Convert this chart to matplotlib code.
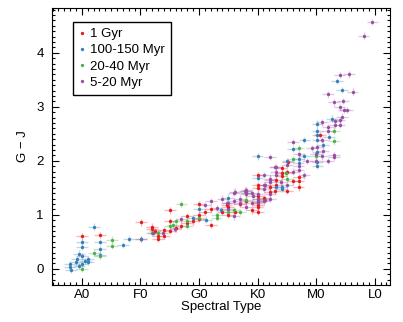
import matplotlib
matplotlib.use('Agg')
import matplotlib.pyplot as plt
from matplotlib.lines import Line2D
from matplotlib.ticker import MultipleLocator

plt.rcParams['font.family'] = ['Liberation Sans', 'DejaVu Sans']

# spectral type as number: A0=0, F0=10, G0=20, K0=30, M0=40, L0=50
tick_pos = [0, 10, 20, 30, 40, 50]
tick_labels = ['A0', 'F0', 'G0', 'K0', 'M0', 'L0']

labels = ['1 Gyr', '100-150 Myr', '20-40 Myr', '5-20 Myr']
colors = ['#e41a1c', '#377eb8', '#4daf4a', '#984ea3']

# 1 Gyr
red_x = [0, 3.1, 10.1, 10.1, 15, 15, 12, 13, 14, 14, 15, 17, 18, 19, 20, 20, 20,
         21, 22, 24, 25, 25, 30, 30, 30, 35.1, 37, 37, 37, 34.1, 34.1, 36, 33.1,
         33.1, 35.1, 32.1, 32.1, 30.1, 31.1, 30.1, 40.6, 35.2, 34.1, 26.1, 29,
         30.1, 30.1, 24.7, 30.1, 22, 16, 18, 12.5, 27, 28, 33, 12, 13]
red_y = [0.60, 0.63, 0.86, 0.55, 1.08, 0.89, 0.74, 0.55, 0.61, 0.71, 0.70, 0.80,
         0.98, 0.88, 1.20, 1.00, 0.92, 1.05, 0.81, 1.06, 1.00, 1.15, 1.74, 1.55,
         1.15, 1.79, 1.70, 1.62, 1.51, 1.77, 1.71, 1.62, 1.64, 1.56, 1.44, 1.51,
         1.43, 1.34, 1.31, 1.24, 2.48, 1.97, 1.86, 1.06, 1.08, 1.06, 1.19, 1.19,
         1.49, 1.10, 0.75, 0.85, 0.70, 1.20, 1.25, 1.45, 0.78, 0.60]

# 100-150 Myr
blue_x = [2.1, 0.05, 0, 3.1, 3.1, 0, -0.5, -0.9, 1.1, -2, -2, -1.9, -0.5, 0, 7.0,
          8.1, 3.1, 10.1, 19, 20, 21.2, 25, 30, 30, 43.5, 44.4, 42.7, 40.2, 40.2,
          40.2, 42.2, 38, 40.2, 36, 41.2, 40.2, 37, 38, 35.1, 37, 40.2, 40.2,
          34.1, 33.1, 23.8, 34.1, 1.0, -1, 0.5]
blue_y = [0.78, 0.50, 0.40, 0.50, 0.36, 0.23, 0.28, 0.18, 0.18, 0.09, 0.04,
          -0.02, 0.05, 0.09, 0.44, 0.55, 0.26, 0.55, 0.94, 1.10, 0.91, 1.32,
          1.68, 2.08, 3.48, 3.31, 2.78, 2.69, 2.56, 2.47, 2.44, 2.39, 2.39, 2.22,
          2.30, 2.17, 2.03, 2.08, 1.99, 1.96, 1.97, 1.90, 1.52, 1.51, 1.09, 1.48,
          0.13, 0.12, 0.14]

# 20-40 Myr
green_x = [5.1, 5.1, 2.1, 3.1, 0, 12, 13, 15, 16, 17, 18, 18, 23, 23, 26, 27, 28,
           35.1, 34.9, 37, 36, 40, 43, 43, 28.1, 30, 20, 25, 15.5]
green_y = [0.54, 0.43, 0.30, 0.24, 0.00, 0.67, 0.67, 0.80, 0.88, 1.20, 0.89,
           0.80, 1.00, 0.94, 1.08, 1.05, 1.28, 1.67, 1.77, 2.24, 2.03, 2.08,
           2.56, 2.36, 1.40, 1.30, 0.95, 1.05, 0.82]

# 5-20 Myr
purple_x = [12.2, 15.9, 17, 13.9, 21, 22, 23, 25, 25, 26, 26, 26, 27, 28, 28, 28,
            29, 30, 30, 44, 45.6, 46.2, 42, 43, 44.6, 44, 44.8, 45.3, 44.4, 44,
            43.2, 44, 43.2, 41, 42, 42, 41, 36, 39.2, 40.2, 41.2, 37, 32.1, 40,
            41, 43, 43, 35.1, 37, 37, 38, 33.1, 33.1, 33.1, 31.1, 32.1, 32.1,
            31.1, 31.1, 28.1, 28.1, 29.2, 30.1, 31.1, 32.1, 40, 33, 26.1, 27.8,
            24.7, 30.1, 31.2, 32.1, 32.1, 31.2, 49.6, 48.1, 24, 27, 29, 34, 35,
            36, 38.5, 42]
purple_y = [0.66, 0.74, 0.92, 0.66, 1.18, 1.25, 1.13, 1.22, 1.10, 1.41, 1.25,
            0.97, 1.22, 1.45, 1.38, 1.15, 1.22, 1.38, 1.22, 3.59, 3.60, 3.28,
            3.23, 3.08, 3.11, 2.99, 2.94, 2.94, 2.82, 2.76, 2.74, 2.67, 2.67,
            2.71, 2.62, 2.56, 2.39, 2.35, 2.24, 2.25, 2.19, 2.12, 2.07, 2.12,
            2.08, 2.11, 2.07, 1.92, 1.90, 1.83, 1.73, 1.88, 1.80, 1.74, 1.74,
            1.67, 1.60, 1.55, 1.47, 1.46, 1.40, 1.34, 1.29, 1.25, 1.29, 1.99,
            1.89, 1.43, 1.45, 1.22, 1.26, 1.55, 1.65, 1.38, 1.28, 4.57, 4.32,
            1.30, 1.30, 1.40, 1.60, 1.55, 1.80, 2.00, 2.00]

xs = [red_x, blue_x, green_x, purple_x]
ys = [red_y, blue_y, green_y, purple_y]

fig = plt.figure(figsize=(4.03, 3.22), dpi=100)
ax = fig.add_axes([52 / 403, 1 - 285 / 322, 338 / 403, 277 / 322])

for x, y, c in zip(xs, ys, colors):
    ax.errorbar(x, y, xerr=1.0, yerr=0.06, fmt='none', ecolor=c, elinewidth=1.0,
                alpha=0.3, zorder=2)
    ax.plot(x, y, 'o', color=c, markersize=2.4, markeredgewidth=0, zorder=3)

ax.set_xlim(-5.1, 52.6)
ax.set_ylim(-0.3, 4.83)
ax.set_xticks(tick_pos)
ax.set_xticklabels(tick_labels)
ax.xaxis.set_minor_locator(MultipleLocator(1))
ax.yaxis.set_major_locator(MultipleLocator(1))
ax.yaxis.set_minor_locator(MultipleLocator(0.1))
ax.tick_params(which='both', direction='in', top=True, right=True, labelsize=9.5,
               width=0.8)
ax.tick_params(which='major', length=5)
ax.tick_params(which='minor', length=2.5)
ax.tick_params(axis='x', which='major', pad=3)
ax.tick_params(axis='y', which='major', pad=6)

ax.set_xlabel('Spectral Type', fontsize=9.5, labelpad=0)
ax.set_ylabel('G − J', fontsize=9.5, labelpad=5)

handles = [Line2D([], [], ls='none', marker='o', markersize=2.4, markeredgewidth=0,
                  color=c) for c in colors]
leg = ax.legend(handles, labels, loc='upper left', bbox_to_anchor=(0.062, 0.949),
                borderaxespad=0, fontsize=9.5, handlelength=0.4, handletextpad=0.45,
                labelspacing=0.3, borderpad=0.45, fancybox=False, framealpha=1)
leg.get_frame().set_edgecolor('black')
leg.get_frame().set_linewidth(1.0)

fig.savefig('out.png', dpi=100)
